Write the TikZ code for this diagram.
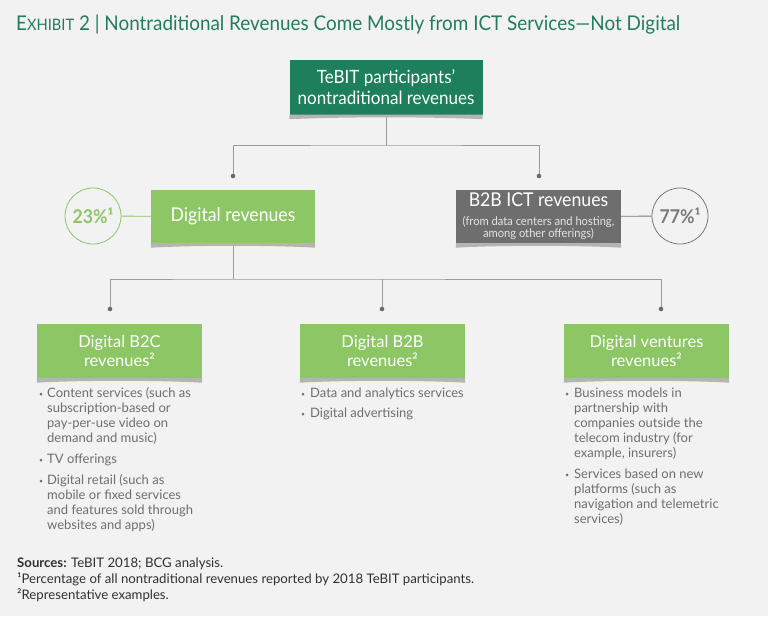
\documentclass[tikz,border=0pt]{standalone}
\usepackage{fontspec}
\setmainfont{Lato}
\newfontfamily\cond[FakeStretch=0.93]{Lato}
\usetikzlibrary{calc}
\definecolor{bg}{HTML}{F2F2F2}
\definecolor{ttl}{HTML}{237C5F}
\definecolor{dkgreen}{HTML}{1E7F5C}
\definecolor{lgreen}{HTML}{8CC665}
\definecolor{gbox}{HTML}{6E6E6E}
\definecolor{shad}{HTML}{B4B4B4}
\definecolor{conn}{HTML}{9A9A9A}
\definecolor{dotc}{HTML}{6A6A6A}
\definecolor{txtg}{HTML}{6D6E70}
\definecolor{foot}{HTML}{303030}
\definecolor{cgray}{HTML}{7A7A7A}
\definecolor{smallw}{HTML}{E4E4E4}
\newcommand\boxshadow[1]{\fill[shad] (#1.south west) -- ($(#1.south west)+(0,4.5)$) .. controls ($(#1.south)+(-40,2)$) and ($(#1.south)+(40,2)$) .. ($(#1.south east)+(0,4.5)$) -- (#1.south east) -- cycle;}
\tikzset{
  boxnode/.style={rectangle, inner sep=0pt, text=white, align=center},
  topfont/.style={font=\cond\fontsize{18.3}{21}\selectfont},
  lvthree/.style={boxnode, fill=lgreen, minimum width=165pt, minimum height=54pt, font=\fontsize{16.5}{19}\selectfont},
  connline/.style={draw=conn, line width=0.9pt},
  dotnode/.style={circle, fill=dotc, inner sep=0pt, minimum size=4.6pt},
  bul/.style={circle, fill=txtg, inner sep=0pt, minimum size=3pt},
  btxt/.style={anchor=north west, inner sep=0pt, align=left, text=txtg, font=\fontsize{13}{15}\selectfont},
  pct/.style={circle, minimum size=56pt, inner sep=0pt, line width=0.8pt, font=\cond\bfseries\fontsize{19}{20}\selectfont},
  ftxt/.style={anchor=base west, inner sep=0pt, text=foot, font=\fontsize{13.2}{16}\selectfont}
}
\begin{document}
\begin{tikzpicture}[x=1pt,y=-1pt]
\useasboundingbox (0,0) rectangle (768,616);
\fill[bg] (0,0) rectangle (768,616);

% title
\node[anchor=base west, inner sep=0pt, text=ttl, font=\cond\fontsize{20.3}{21}\selectfont] (title) at (16,30)
  {E{\fontsize{15.8}{16}\selectfont XHIBIT} 2 | Nontraditional Revenues Come Mostly from ICT Services—Not Digital};

% coordinates and dots
\coordinate (h1) at (386,145);
\coordinate (h2) at (233,279);
\node[dotnode] (d1) at (233,176) {};
\node[dotnode] (d2) at (539,176) {};
\node[dotnode] (e1) at (110,309) {};
\node[dotnode] (e2) at (382,309) {};
\node[dotnode] (e3) at (661,309) {};

% boxes
\node[boxnode, fill=dkgreen, minimum width=193pt, minimum height=55pt, topfont] (top) at (386,87)
  {TeBIT participants’\\nontraditional revenues};
\node[boxnode, fill=lgreen, minimum width=164pt, minimum height=53pt, font=\cond\fontsize{19}{20}\selectfont] (dig) at (233,216.5)
  {Digital revenues};
\node[boxnode, fill=gbox, minimum width=165pt, minimum height=53pt, font=\cond\fontsize{12}{10.5}\selectfont] (ict) at (538.5,216.5)
  {{\fontsize{19}{20}\selectfont B2B ICT revenues}\\[8pt]\textcolor{smallw}{(from data centers and hosting,}\\\textcolor{smallw}{among other offerings)}};
\node[lvthree] (b2c) at (119.5,351) {Digital B2C\\revenues²};
\node[lvthree] (b2b) at (382.5,351) {Digital B2B\\revenues²};
\node[lvthree] (ven) at (646.5,351) {Digital ventures\\revenues²};

% percentage circles
\node[pct, draw=lgreen, text=lgreen] (c23) at (93,216) {23\%¹};
\node[pct, draw=cgray, text=cgray] (c77) at (680,216) {77\%¹};

% connectors
\draw[connline] (top.south) -- (h1);
\draw[connline] (d1) |- (h1) -| (d2);
\draw[connline] (dig.south) -- (h2);
\draw[connline] (e1) |- (h2) -| (e3);
\draw[connline] (e2) -- (e2 |- h2);
\draw[draw=lgreen, line width=0.8pt] (c23) -- (dig);
\draw[draw=cgray, line width=0.8pt] (ict) -- (c77);

% shadows
\boxshadow{top}
\boxshadow{dig}
\boxshadow{ict}
\boxshadow{b2c}
\boxshadow{b2b}
\boxshadow{ven}

% bullets B2C
\node[bul] (p1) at (41,394) {};
\node[btxt] (t1) at (47,387) {\rule{0pt}{10pt}Content services (such as\\subscription-based or\\pay-per-use video on\\demand and music)};
\node[bul] (p2) at (41,460) {};
\node[btxt] (t2) at (47,453) {\rule{0pt}{10pt}TV offerings};
\node[bul] (p3) at (41,481) {};
\node[btxt] (t3) at (47,474) {\rule{0pt}{10pt}Digital retail (such as\\mobile or fixed services\\and features sold through\\websites and apps)};

% bullets B2B
\node[bul] (q1) at (303,394) {};
\node[btxt] (u1) at (310,387) {\rule{0pt}{10pt}Data and analytics services};
\node[bul] (q2) at (303,414) {};
\node[btxt] (u2) at (310,407) {\rule{0pt}{10pt}Digital advertising};

% bullets ventures
\node[bul] (r1) at (567,394) {};
\node[btxt] (v1) at (574,387) {\rule{0pt}{10pt}Business models in\\partnership with\\companies outside the\\telecom industry (for\\example, insurers)};
\node[bul] (r2) at (567,475) {};
\node[btxt] (v2) at (574,468) {\rule{0pt}{10pt}Services based on new\\platforms (such as\\navigation and telemetric\\services)};

% footnotes
\node[ftxt] (f1) at (17,567) {\textbf{Sources:} TeBIT 2018; BCG analysis.};
\node[ftxt] (f2) at (17,583) {¹Percentage of all nontraditional revenues reported by 2018 TeBIT participants.};
\node[ftxt] (f3) at (17,599) {²Representative examples.};
\end{tikzpicture}
\end{document}
